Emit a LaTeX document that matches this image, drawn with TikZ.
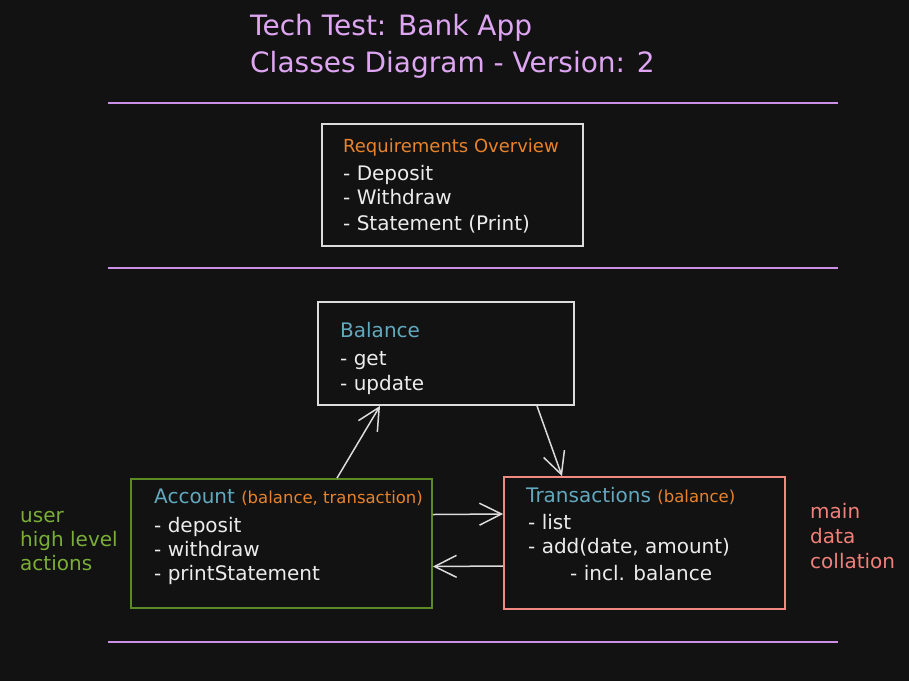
\documentclass[tikz,border=0pt]{standalone}
\usepackage{fontspec}
\setmainfont{DejaVu Sans}
\usetikzlibrary{arrows.meta}

\definecolor{bgdark}{HTML}{121212}
\definecolor{titlepurple}{HTML}{DEA6F2}
\definecolor{rulepurple}{HTML}{CC8FE6}
\definecolor{headorange}{HTML}{E8832C}
\definecolor{headblue}{HTML}{62A9BF}
\definecolor{boxgreen}{HTML}{5B8C24}
\definecolor{notegreen}{HTML}{7AAE37}
\definecolor{boxsalmon}{HTML}{F08A80}
\definecolor{notesalmon}{HTML}{F2807A}
\definecolor{boxwhite}{HTML}{DCDCDC}
\definecolor{txtwhite}{HTML}{ECECEC}

\newcommand\txttitle{\fontsize{28}{32}\selectfont}
\newcommand\txtbody{\fontsize{20}{23}\selectfont}
\newcommand\txthead{\fontsize{18}{21}\selectfont}
\newcommand\txtsmall{\fontsize{16.5}{19}\selectfont}

\begin{document}
\begin{tikzpicture}[x=1pt,y=-1pt,
	box/.style={draw=#1, line width=1.8pt, inner sep=0pt},
	line/.style={anchor=base west, inner sep=0pt, text=txtwhite, font=\txtbody},
	arr/.style={draw=boxwhite, line width=1.5pt, -{Straight Barb[length=22pt,width=22pt]}},
	sep/.style={draw=rulepurple, line width=1.7pt}]
		\useasboundingbox (0,0) rectangle (909,681);
		\fill[bgdark] (0,0) rectangle (909,681);

		% title
		\node[anchor=base west, inner sep=0pt, text=titlepurple, font=\txttitle] (title1) at (250,35) {Tech Test: Bank App};
		\node[anchor=base west, inner sep=0pt, text=titlepurple, font=\txttitle] (title2) at (250,72) {Classes Diagram - Version: 2};

		% separators
		\draw[sep] (108,103) -- (838,103);
		\draw[sep] (108,268) -- (838,268);
		\draw[sep] (108,642) -- (838,642);

		% requirements
		\node[box=boxwhite, minimum width=261pt, minimum height=122pt] (req) at (452.5,185) {};
		\node[line, text=headorange, font=\txthead] (reqhead) at (343,152) {Requirements Overview};
		\node[line] (req1) at (343,180) {- Deposit};
		\node[line] (req2) at (343,204) {- Withdraw};
		\node[line] (req3) at (343,230) {- Statement (Print)};

		% balance
		\node[box=boxwhite, minimum width=256pt, minimum height=103pt] (bal) at (446,353.5) {};
		\node[line, text=headblue] (balhead) at (340,337) {Balance};
		\node[line] (bal1) at (340,365) {- get};
		\node[line] (bal2) at (340,390) {- update};

		% account
		\node[box=boxgreen, minimum width=301pt, minimum height=129pt] (acc) at (281.5,543.5) {};
		\node[line] (acchead) at (154,503) {\textcolor{headblue}{Account} {\txtsmall\textcolor{headorange}{(balance, transaction)}}};
		\node[line] (acc1) at (154,532) {- deposit};
		\node[line] (acc2) at (154,556) {- withdraw};
		\node[line] (acc3) at (154,580) {- printStatement};

		% transactions
		\node[box=boxsalmon, minimum width=281pt, minimum height=132pt] (trans) at (644.5,543) {};
		\node[line] (transhead) at (526,502) {\textcolor{headblue}{Transactions} {\txtsmall\textcolor{headorange}{(balance)}}};
		\node[line] (trans1) at (528,529) {- list};
		\node[line] (trans2) at (528,553) {- add(date, amount)};
		\node[line] (trans3) at (570,580) {- incl. balance};

		% side notes
		\node[line, text=notegreen] (user1) at (20,522) {user};
		\node[line, text=notegreen] (user2) at (20,546) {high level};
		\node[line, text=notegreen] (user3) at (20,570) {actions};
		\node[line, text=notesalmon] (main1) at (810,518) {main};
		\node[line, text=notesalmon] (main2) at (810,543) {data};
		\node[line, text=notesalmon] (main3) at (810,568) {collation};

		% arrows
		\draw[arr] ([xshift=55.5pt]acc.north) -- ([xshift=-66pt]bal.south);
		\draw[arr] ([xshift=91pt]bal.south) -- ([xshift=-82.5pt]trans.north);
		\draw[arr] ([yshift=29pt]acc.east) -- ([yshift=29pt]trans.west);
		\draw[arr] ([yshift=-23pt]trans.west) -- ([yshift=-23pt]acc.east);
	\end{tikzpicture}
\end{document}
